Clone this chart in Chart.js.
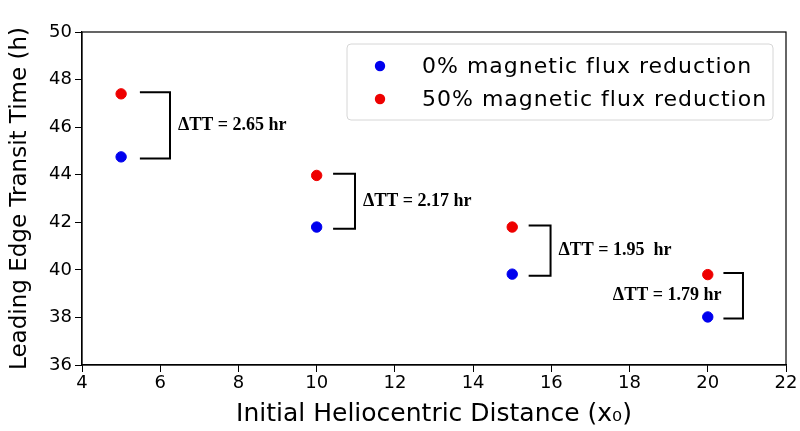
<!DOCTYPE html>
<html>
<head>
<meta charset="utf-8">
<script src="https://cdn.jsdelivr.net/npm/chart.js@4/dist/chart.umd.min.js"></script>
<style>
  body { margin: 0; background: #fff; }
  #wrap { width: 800px; height: 431px; }
</style>
</head>
<body>
<div id="wrap"><canvas id="scatterChart"></canvas></div>
<script>
var distances = [5, 10, 15, 20];
var noReduction = [44.75, 41.8, 39.82, 38.02];
var halfReduction = [47.4, 43.97, 41.8, 39.8];
var deltaLabels = ['ΔTT = 2.65 hr', 'ΔTT = 2.17 hr', 'ΔTT = 1.95  hr', 'ΔTT = 1.79 hr'];
var xTicks = [4, 6, 8, 10, 12, 14, 16, 18, 20, 22];
var yTicks = [36, 38, 40, 42, 44, 46, 48, 50];

// bracket horizontal extent (data units, relative to each point)
var bracketStart = [0.48, 0.42, 0.42, 0.4];
var bracketEnd = [1.25, 0.98, 0.98, 0.9];

function toPoints(ys) {
    return distances.map(function (x, i) { return { x: x, y: ys[i] }; });
}

var datasets = [{
    label: '0% magnetic flux reduction',
    data: toPoints(noReduction),
    backgroundColor: '#0000ee',
    borderColor: '#0000ee',
    pointRadius: 5.2,
    pointHoverRadius: 5.2
}, {
    label: '50% magnetic flux reduction',
    data: toPoints(halfReduction),
    backgroundColor: '#ee0000',
    borderColor: '#ee0000',
    pointRadius: 5.2,
    pointHoverRadius: 5.2
}];

distances.forEach(function (x, i) {
    var top = halfReduction[i] + 0.07, bot = noReduction[i] - 0.07;
    var a = x + bracketStart[i], b = x + bracketEnd[i];
    datasets.push({
        label: 'bracket',
        data: [{ x: a, y: top }, { x: b, y: top }, { x: b, y: bot }, { x: a, y: bot }],
        showLine: true,
        borderColor: '#000',
        borderWidth: 2,
        pointRadius: 0,
        fill: false
    });
});

var framePlugin = {
    id: 'frame',
    afterDraw: function (chart) {
        var c = chart.ctx, a = chart.chartArea;
        var xs = chart.scales.x, ys = chart.scales.y;
        c.save();
        c.strokeStyle = '#000';
        c.lineWidth = 1.2;
        c.strokeRect(a.left, a.top, a.right - a.left, a.bottom - a.top);

        // delta annotations
        c.fillStyle = '#000';
        c.font = 'bold 18px "Liberation Serif", serif';
        c.textBaseline = 'middle';
        distances.forEach(function (x, i) {
            var mid = (halfReduction[i] + noReduction[i]) / 2;
            var py = ys.getPixelForValue(mid);
            if (i === 3) {
                c.textAlign = 'right';
                c.fillText(deltaLabels[i], xs.getPixelForValue(x + bracketStart[i]) - 2, py);
            } else {
                c.textAlign = 'left';
                c.fillText(deltaLabels[i], xs.getPixelForValue(x + bracketEnd[i]) + 8, py);
            }
        });

        // legend box
        var lx = 347, ly = 44, lw = 426, lh = 76;
        c.beginPath();
        c.roundRect(lx, ly, lw, lh, 4);
        c.fillStyle = 'rgba(255,255,255,0.8)';
        c.fill();
        c.strokeStyle = '#d6d6d6';
        c.lineWidth = 1;
        c.stroke();
        c.font = '22px "DejaVu Sans", sans-serif';
        c.letterSpacing = '1px';
        c.textAlign = 'left';
        [0, 1].forEach(function (k) {
            var yy = ly + 22 + k * 33;
            c.beginPath();
            c.arc(lx + 33, yy, 5.2, 0, Math.PI * 2);
            c.fillStyle = datasets[k].backgroundColor;
            c.fill();
            c.fillStyle = '#000';
            c.fillText(datasets[k].label, lx + 75, yy + 1);
        });
        c.restore();
    }
};

var tickFont = { family: '"DejaVu Sans", sans-serif', size: 18 };

var ctx = document.getElementById('scatterChart').getContext('2d');
new Chart(ctx, {
    type: 'scatter',
    data: { datasets: datasets },
    options: {
        responsive: true,
        maintainAspectRatio: false,
        animation: false,
        layout: { padding: { left: 0, right: 14, top: 32, bottom: 0 } },
        plugins: {
            legend: { display: false },
            tooltip: { enabled: false }
        },
        scales: {
            x: {
                type: 'linear',
                min: 4,
                max: 22,
                afterBuildTicks: function (s) { s.ticks = xTicks.map(function (v) { return { value: v }; }); },
                afterFit: function (s) { s.height = 66; },
                grid: { display: true, drawOnChartArea: false, drawTicks: true, tickLength: 7, color: '#000' },
                border: { color: '#000', width: 1.2 },
                ticks: { color: '#000', font: tickFont, padding: 1, maxRotation: 0 },
                title: { display: true, text: 'Initial Heliocentric Distance (x₀)', color: '#000', font: { family: '"DejaVu Sans", sans-serif', size: 25 }, padding: { top: 0, bottom: 2 } }
            },
            y: {
                min: 36,
                max: 50,
                afterBuildTicks: function (s) { s.ticks = yTicks.map(function (v) { return { value: v }; }); },
                afterFit: function (s) { s.width = 82; },
                grid: { display: true, drawOnChartArea: false, drawTicks: true, tickLength: 7, color: '#000' },
                border: { color: '#000', width: 1.2 },
                ticks: { color: '#000', font: tickFont, padding: 3 },
                title: { display: true, text: 'Leading Edge Transit Time (h)', color: '#000', font: { family: '"DejaVu Sans", sans-serif', size: 23 }, padding: { top: 6, bottom: 2 } }
            }
        }
    },
    plugins: [framePlugin]
});
</script>
</body>
</html>
